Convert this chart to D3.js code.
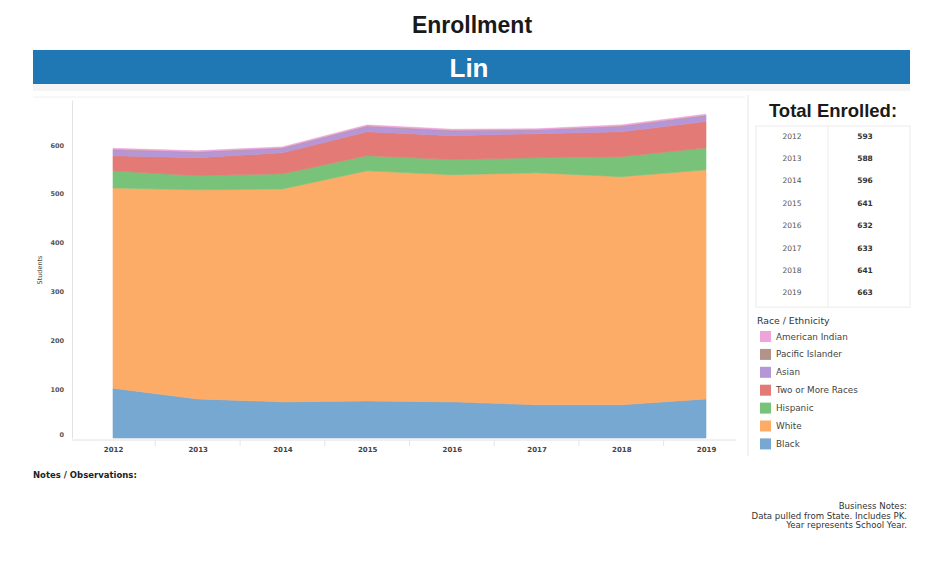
<!DOCTYPE html>
<html>
<head>
<meta charset="utf-8">
<script src="https://cdn.jsdelivr.net/npm/d3@7"></script>
<style>
  html, body { margin: 0; padding: 0; background: #ffffff; }
  svg { display: block; font-family: "DejaVu Sans", Verdana, sans-serif; }
  .head { font-family: "Liberation Sans", Arial, sans-serif; }
</style>
</head>
<body>
<svg id="chart" width="935" height="567"></svg>
<script>
// School years shown on the x axis
const years = [2012, 2013, 2014, 2015, 2016, 2017, 2018, 2019];

// Enrollment by race / ethnicity, one value per year
const black          = [102,  80,  74,  76,  74,  68,  68,  80];
const white          = [410, 428, 436, 471, 465, 475, 467, 469];
const hispanic       = [ 35,  29,  31,  31,  31,  31,  41,  45];
const twoOrMore      = [ 31,  37,  43,  49,  49,  49,  51,  54];
const asian          = [ 12,  11,   9,  11,  10,   8,  11,  12];
const pacificIslander= [  1,   1,   1,   1,   1,   0,   1,   1];
const americanIndian = [  2,   2,   2,   2,   2,   2,   2,   2];

// Stack order, bottom to top
const groups = ["Black", "White", "Hispanic", "Two or More Races", "Asian", "Pacific Islander", "American Indian"];
const groupValues = [black, white, hispanic, twoOrMore, asian, pacificIslander, americanIndian];
const groupColors = ["#76a8d1", "#fdac68", "#79c279", "#e37a75", "#b596d6", "#b3928a", "#eca4da"];

// Legend lists the groups top to bottom
const legendOrder = ["American Indian", "Pacific Islander", "Asian", "Two or More Races", "Hispanic", "White", "Black"];

const yTicks = [0, 100, 200, 300, 400, 500, 600];

const rows = years.map((yr, i) => {
  const r = { year: yr };
  groups.forEach((g, k) => { r[g] = groupValues[k][i]; });
  return r;
});
const totals = rows.map(r => d3.sum(groups, g => r[g]));

const svg = d3.select("#chart");
const color = d3.scaleOrdinal().domain(groups).range(groupColors);

// Title
svg.append("text")
  .attr("class", "head")
  .attr("x", 472).attr("y", 33)
  .attr("text-anchor", "middle")
  .attr("font-size", 23).attr("font-weight", "bold")
  .attr("fill", "#1a1a1a")
  .text("Enrollment");

// School banner
svg.append("rect").attr("x", 33).attr("y", 50).attr("width", 877).attr("height", 34).attr("fill", "#1f77b4");
svg.append("rect").attr("x", 33).attr("y", 84).attr("width", 877).attr("height", 7).attr("fill", "#f4f4f4");
svg.append("text")
  .attr("class", "head")
  .attr("x", 469).attr("y", 77)
  .attr("text-anchor", "middle")
  .attr("font-size", 26).attr("font-weight", "bold")
  .attr("fill", "#ffffff")
  .text("Lin");

// Chart pane frame
svg.append("line").attr("x1", 33).attr("x2", 745).attr("y1", 97).attr("y2", 97).attr("stroke", "#f0f0f0");
svg.append("line").attr("x1", 748).attr("x2", 748).attr("y1", 95).attr("y2", 456).attr("stroke", "#e6e6e6");

const x = d3.scalePoint().domain(years).range([113, 706]);
const y = d3.scaleLinear().domain([0, 692]).range([438, 100]);

const stack = d3.stack().keys(groups);
const series = stack(rows);

const area = d3.area()
  .x(d => x(d.data.year))
  .y0(d => y(d[0]))
  .y1(d => y(d[1]));

svg.append("g")
  .selectAll("path")
  .data(series)
  .join("path")
  .attr("d", area)
  .attr("fill", d => color(d.key))
  .attr("stroke", d => color(d.key))
  .attr("stroke-width", 0.6);

// Y axis
const yAxis = svg.append("g")
  .attr("transform", "translate(72,0)")
  .call(d3.axisLeft(y).tickValues(yTicks).tickSize(0).tickPadding(8));
yAxis.select(".domain").attr("stroke", "#e2e2e2");
yAxis.selectAll("text")
  .attr("font-family", "DejaVu Sans, sans-serif")
  .attr("font-size", 6.5).attr("font-weight", "bold").attr("fill", "#555")
  .attr("dy", d => d === 0 ? "-0.3em" : "0.32em");

svg.append("text")
  .attr("transform", "translate(42,270) rotate(-90)")
  .attr("text-anchor", "middle")
  .attr("font-size", 6.5)
  .attr("fill", "#444")
  .text("Students");

// X axis
const xAxis = svg.append("g")
  .attr("transform", "translate(0,440)")
  .call(d3.axisBottom(x).tickSize(0).tickPadding(7).tickFormat(d3.format("d")));
xAxis.select(".domain").attr("d", "M72,0H736").attr("stroke", "#e2e2e2");
xAxis.selectAll("text")
  .attr("font-family", "DejaVu Sans, sans-serif")
  .attr("font-size", 7).attr("font-weight", "bold").attr("fill", "#444");

// Faint separators between year columns
svg.append("g")
  .selectAll("line")
  .data(years.slice(1))
  .join("line")
  .attr("x1", d => x(d) - x.step() / 2)
  .attr("x2", d => x(d) - x.step() / 2)
  .attr("y1", 440).attr("y2", 446)
  .attr("stroke", "#e6e6e6");

// Totals table
svg.append("text")
  .attr("class", "head")
  .attr("x", 833).attr("y", 117)
  .attr("text-anchor", "middle")
  .attr("font-size", 18.5).attr("font-weight", "bold")
  .attr("fill", "#1a1a1a")
  .text("Total Enrolled:");

const tableTop = 126, rowH = 22.4;
svg.append("rect")
  .attr("x", 756).attr("y", tableTop)
  .attr("width", 154).attr("height", rowH * years.length + 2)
  .attr("fill", "none").attr("stroke", "#ececec");
svg.append("line")
  .attr("x1", 828).attr("x2", 828)
  .attr("y1", tableTop).attr("y2", tableTop + rowH * years.length + 2)
  .attr("stroke", "#ececec");

const tRows = svg.append("g")
  .selectAll("g")
  .data(years)
  .join("g")
  .attr("transform", (d, i) => `translate(0,${tableTop + 12.5 + i * rowH})`);
tRows.append("text")
  .attr("x", 792).attr("text-anchor", "middle")
  .attr("font-size", 7.5).attr("fill", "#555")
  .text(d => d);
tRows.append("text")
  .attr("x", 865).attr("text-anchor", "middle")
  .attr("font-size", 7.5).attr("font-weight", "bold").attr("fill", "#333")
  .text((d, i) => totals[i]);

// Legend
svg.append("text")
  .attr("x", 757).attr("y", 324)
  .attr("font-size", 9.3).attr("fill", "#333")
  .text("Race / Ethnicity");

const leg = svg.append("g")
  .selectAll("g")
  .data(legendOrder)
  .join("g")
  .attr("transform", (d, i) => `translate(760,${331 + i * 17.9})`);
leg.append("rect")
  .attr("width", 11).attr("height", 11)
  .attr("fill", d => color(d));
leg.append("text")
  .attr("x", 16).attr("y", 8.5)
  .attr("font-size", 8.8).attr("fill", "#444")
  .text(d => d);

// Notes
svg.append("text")
  .attr("x", 33).attr("y", 478)
  .attr("font-size", 8.5).attr("font-weight", "bold").attr("fill", "#222")
  .text("Notes / Observations:");

const notes = ["Business Notes:", "Data pulled from State.  Includes PK.", "Year represents School Year."];
svg.append("g")
  .selectAll("text")
  .data(notes)
  .join("text")
  .attr("x", 907)
  .attr("y", (d, i) => 509 + i * 9.5)
  .attr("text-anchor", "end")
  .attr("font-size", 8.6).attr("fill", "#333")
  .text(d => d);
</script>
</body>
</html>
